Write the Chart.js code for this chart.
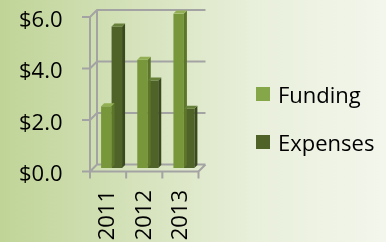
<!DOCTYPE html>
<html>
<head>
<meta charset="utf-8">
<script src="https://cdn.jsdelivr.net/npm/chart.js@4.4.0/dist/chart.umd.min.js"></script>
<style>
  html, body { margin: 0; padding: 0; }
  body {
    width: 386px; height: 242px; overflow: hidden; position: relative;
    background: linear-gradient(to right, #c0d497 0%, #d5e2bb 35%, #e8efda 65%, #f3f6ec 100%);
    font-family: "Open Sans", sans-serif;
  }
  #wrap { position: absolute; left: 0; top: 0; width: 386px; height: 242px; }
  #legend { position: absolute; left: 256px; top: 0; }
  .item { position: absolute; left: 0; display: flex; align-items: center; height: 30px;
    font-size: 22px; color: #000; white-space: nowrap; }
  .box { width: 14px; height: 14px; margin-right: 8px; }
</style>
</head>
<body>
<div id="wrap"><canvas id="chart" width="386" height="242"></canvas></div>
<div id="legend"></div>
<script>
const years = ['2011', '2012', '2013'];
const funding = [2.4, 4.2, 6.0];
const expenses = [5.5, 3.4, 2.3];
const seriesNames = ['Funding', 'Expenses'];
const yTicks = [0, 2, 4, 6];

const colors = {
  Funding: { front: '#78973b', side: '#5b7529', top: '#92b053', legend: '#86a64a' },
  Expenses: { front: '#4f6228', side: '#3a4a1c', top: '#67803a', legend: '#4f6228' }
};

// half of the fake 3D depth
const D = 3.5;

const frame3d = {
  id: 'frame3d',
  beforeDatasetsDraw(chart) {
    const { ctx, chartArea: a, scales: { y } } = chart;
    ctx.save();
    ctx.strokeStyle = '#a3a3a3';
    ctx.lineWidth = 2;
    ctx.beginPath();
    // front axis and back wall edge
    ctx.moveTo(a.left - D, a.top + D);
    ctx.lineTo(a.left - D, a.bottom + D);
    ctx.moveTo(a.left + D, a.top - D);
    ctx.lineTo(a.left + D, a.bottom - D);
    yTicks.forEach(v => {
      const yp = y.getPixelForValue(v);
      ctx.moveTo(a.left - D - 8, yp + D);
      ctx.lineTo(a.left - D, yp + D);
      ctx.lineTo(a.left + D, yp - D);
      ctx.lineTo(a.right + D, yp - D);
    });
    // floor
    ctx.moveTo(a.left - D, a.bottom + D);
    ctx.lineTo(a.right - D, a.bottom + D);
    ctx.lineTo(a.right + D, a.bottom - D);
    const step = a.width / years.length;
    for (let i = 0; i <= years.length; i++) {
      const xp = a.left + i * step - D;
      ctx.moveTo(xp, a.bottom + D);
      ctx.lineTo(xp, a.bottom + D + 7);
    }
    ctx.stroke();
    ctx.restore();
  },
  afterDatasetsDraw(chart) {
    const { ctx } = chart;
    ctx.save();
    chart.data.datasets.forEach((ds, di) => {
      const c = colors[ds.label];
      chart.getDatasetMeta(di).data.forEach(bar => {
        const r = bar.x + bar.width / 2, l = bar.x - bar.width / 2;
        const t = bar.y, b = bar.base;
        const d = 3;
        ctx.fillStyle = c.side;
        ctx.beginPath();
        ctx.moveTo(r, t); ctx.lineTo(r + d, t - d); ctx.lineTo(r + d, b - d); ctx.lineTo(r, b);
        ctx.closePath(); ctx.fill();
        ctx.fillStyle = c.top;
        ctx.beginPath();
        ctx.moveTo(l, t); ctx.lineTo(l + d, t - d); ctx.lineTo(r + d, t - d); ctx.lineTo(r, t);
        ctx.closePath(); ctx.fill();
      });
    });
    ctx.restore();
  }
};

const font = { family: '"Open Sans", sans-serif', size: 22 };

new Chart(document.getElementById('chart'), {
  type: 'bar',
  data: {
    labels: years,
    datasets: [
      { label: seriesNames[0], data: funding, backgroundColor: colors.Funding.front },
      { label: seriesNames[1], data: expenses, backgroundColor: colors.Expenses.front }
    ]
  },
  options: {
    responsive: false,
    animation: false,
    events: [],
    layout: { padding: { top: 13.5, right: 184, left: 19, bottom: 0 } },
    datasets: { bar: { categoryPercentage: 0.58, barPercentage: 1 } },
    plugins: { legend: { display: false }, tooltip: { enabled: false } },
    scales: {
      x: {
        grid: { display: false, drawTicks: false },
        border: { display: false },
        ticks: { font, color: '#000', minRotation: 90, maxRotation: 90, padding: 22, labelOffset: -D },
        afterFit: s => { s.height = 74; }
      },
      y: {
        min: 0, max: 6,
        grid: { display: false, drawTicks: false },
        border: { display: false },
        ticks: { stepSize: 2, font, color: '#000', padding: 0, crossAlign: 'far', labelOffset: 7,
          callback: v => '$' + v.toFixed(1) },
        afterFit: s => { s.width = 74.5; }
      }
    }
  },
  plugins: [frame3d]
});

const legend = document.getElementById('legend');
const legendTops = [79, 127];
seriesNames.forEach((name, i) => {
  const row = document.createElement('div');
  row.className = 'item';
  row.style.top = legendTops[i] + 'px';
  row.innerHTML = '<span class="box" style="background:' + colors[name].legend + '"></span>' + name;
  legend.appendChild(row);
});
</script>
</body>
</html>
